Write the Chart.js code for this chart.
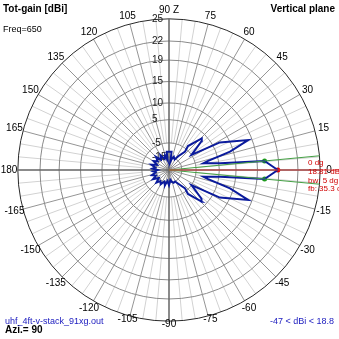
<!DOCTYPE html>
<html>
<head>
<meta charset="utf-8">
<script src="https://cdn.jsdelivr.net/npm/chart.js@4.4.1/dist/chart.umd.min.js"></script>
<style>
  html, body { margin: 0; padding: 0; background: #fff; }
  canvas { display: block; }
</style>
</head>
<body>
<canvas id="polar" width="339" height="339"></canvas>
<script>
// outline of the pattern, traced in drawing order:
// elevation angle (deg) and total gain (dBi) at each vertex
let patternAngles = [
  0, 5.4, 7.5, 11, 13, 16.7, 20.7, 28.5, 34, 41.5, 44, 51.6, 49, 56, 62, 70, 77,
  81, 82, 97, 98, 105, 112, 120, 128, 135, 142, 150, 157, 163, 170, 175, 180,
  -175, -170, -163, -157, -150, -142, -135, -128, -120, -112, -105, -98, -90, -82,
  -77, -70, -62, -56, -49, -51.6, -44, -41.5, -34, -28.5, -20.7, -16.7, -13, -11,
  -7.5, -5.4, 0
];
let patternGain = [
  18.81, 16.5, 5.4, -1, 1, 9.1, 14.2, 7.4, -5, 2.5, 3.3, -3.2, -6.5, -12, -16, -14, -17,
  -20, -10.6, -10.6, -18, -13, -16, -11.5, -15, -10.5, -14, -11, -15, -10.5, -14, -12, -16.5,
  -12.5, -14.5, -11, -14, -10.5, -15, -11, -14, -12, -15.5, -12.5, -17, -13, -18,
  -16, -14.5, -15, -12, -6.5, -3.2, 3.3, 2.5, -5, 7.4, 14.2, 9.1, 1, -1,
  5.4, 16.5, 18.81
];

// grid rings (dBi) and angle labels round the rim
let ringValues = [25, 22, 19, 15, 10, 5, -5, -15];
let rimAngles = [0, 15, 30, 45, 60, 75, 90, 105, 120, 135, 150, 165, 180,
  -165, -150, -135, -120, -105, -90, -75, -60, -45, -30, -15];
let rimLabels = ["0", "15", "30", "45", "60", "75", "90 Z", "105", "120", "135", "150", "165", "180",
  "-165", "-150", "-135", "-120", "-105", "-90", "-75", "-60", "-45", "-30", "-15"];

// main beam summary
let beamAngle = 0;
let beamGain = 18.81;
let halfPowerAngles = [5.4, -5.4];
let halfPowerGain = 16.5;
let beamWidth = 5;
let frontBack = 35.3;
let gainMin = -47;
let gainMax = 18.8;

const DEG = Math.PI / 180;

// log-like radial scale used by the plot: 25 dBi on the rim, about -33 dBi at the centre
function gainToRadius(db) {
  return Math.max(0, 0.30596 * Math.exp(0.0497 * db) - 0.05894);
}

function toXY(angle, db) {
  let r = gainToRadius(db);
  return { x: r * Math.cos(angle * DEG), y: r * Math.sin(angle * DEG) };
}

let patternPoints = patternAngles.map((a, i) => toXY(a, patternGain[i]));

let greenLines = [];
halfPowerAngles.forEach(a => {
  greenLines.push({ x: 0, y: 0 });
  greenLines.push({ x: Math.cos(a * DEG), y: Math.sin(a * DEG) });
  greenLines.push({ x: NaN, y: NaN });
});

// polar grid, rim labels and ring labels are drawn under the data
const polarGrid = {
  id: "polarGrid",
  beforeDatasetsDraw(chart) {
    const ctx = chart.ctx;
    const xs = chart.scales.x, ys = chart.scales.y;
    const cx = xs.getPixelForValue(0), cy = ys.getPixelForValue(0);
    const R = xs.getPixelForValue(1) - cx;
    ctx.save();

    // minor spokes every 5 degrees
    ctx.strokeStyle = "#d2d2d2";
    ctx.lineWidth = 1;
    const rInner = gainToRadius(-5) * R;
    for (let a = 0; a < 360; a += 5) {
      if (a % 15 === 0) continue;
      ctx.beginPath();
      ctx.moveTo(cx + rInner * Math.cos(a * DEG), cy - rInner * Math.sin(a * DEG));
      ctx.lineTo(cx + R * Math.cos(a * DEG), cy - R * Math.sin(a * DEG));
      ctx.stroke();
    }
    // major spokes every 15 degrees
    ctx.strokeStyle = "#959595";
    for (let a = 0; a < 360; a += 15) {
      if (a % 90 === 0) continue;
      ctx.beginPath();
      ctx.moveTo(cx, cy);
      ctx.lineTo(cx + R * Math.cos(a * DEG), cy - R * Math.sin(a * DEG));
      ctx.stroke();
    }
    // rings
    ringValues.forEach(v => {
      ctx.beginPath();
      ctx.strokeStyle = v === ringValues[0] ? "#2a2a2a" : "#8a8a8a";
      ctx.arc(cx, cy, gainToRadius(v) * R, 0, 2 * Math.PI);
      ctx.stroke();
    });
    // axes
    ctx.strokeStyle = "#666";
    ctx.lineWidth = 1.5;
    ctx.beginPath();
    ctx.moveTo(cx - R, cy); ctx.lineTo(cx + R, cy);
    ctx.moveTo(cx, cy - R); ctx.lineTo(cx, cy + R);
    ctx.stroke();

    // rim labels
    ctx.fillStyle = "#000";
    ctx.font = "10px 'Liberation Sans', Arial, sans-serif";
    ctx.textAlign = "center";
    ctx.textBaseline = "middle";
    rimAngles.forEach((a, i) => {
      const s = Math.sin(a * DEG);
      const rl = s < -0.9 ? 154 : 159.5;
      ctx.fillText(rimLabels[i], cx + 160 * Math.cos(a * DEG) * R / 151, cy - rl * s * R / 151);
    });

    // ring labels up the vertical axis
    ctx.font = "10px 'Liberation Sans', Arial, sans-serif";
    ctx.textAlign = "left";
    ctx.fillStyle = "#1a1a1a";
    ringValues.forEach(v => {
      ctx.fillText(String(v), cx - 17, cy - gainToRadius(v) * R);
    });
    ctx.restore();
  },
  afterDraw(chart) {
    const ctx = chart.ctx;
    const ys = chart.scales.y;
    const cy = ys.getPixelForValue(0);
    ctx.save();
    ctx.textBaseline = "middle";
    ctx.textAlign = "left";
    ctx.fillStyle = "#000";
    ctx.font = "bold 10px 'Liberation Sans', Arial, sans-serif";
    ctx.fillText("Tot-gain [dBi]", 3, 9);
    ctx.fillText("Azi.= " + 90, 5, 330);
    ctx.textAlign = "right";
    ctx.fillText("Vertical plane", 335, 9);
    ctx.textAlign = "left";
    ctx.font = "9px 'Liberation Sans', Arial, sans-serif";
    ctx.fillText("Freq=650", 3, 30);

    ctx.fillStyle = "#2020c0";
    ctx.fillText("uhf_4ft-v-stack_91xg.out", 5, 322);
    ctx.textAlign = "right";
    ctx.fillText(gainMin + " < dBi < " + gainMax, 334, 322);

    // beam summary next to the main lobe
    ctx.textAlign = "left";
    ctx.fillStyle = "#d00000";
    ctx.font = "8px 'Liberation Sans', Arial, sans-serif";
    ctx.fillText(beamAngle + " dg", 308, cy - 7);
    ctx.fillText(beamGain.toFixed(2) + " dB", 308, cy + 2);
    ctx.fillText("bw: " + beamWidth + " dg", 308, cy + 11);
    ctx.fillText("fb: " + frontBack + " dB", 308, cy + 19);
    ctx.restore();
  }
};

new Chart("polar", {
  type: "scatter",
  data: {
    datasets: [
      {
        data: [{ x: 0, y: 0 }, { x: 1.13, y: 0 }],
        showLine: true, borderColor: "#d84040", borderWidth: 1, pointRadius: 0
      },
      {
        data: greenLines,
        showLine: true, spanGaps: false, borderColor: "#44a044", borderWidth: 1, pointRadius: 0
      },
      {
        data: patternPoints,
        showLine: true, borderColor: "#0a1a9c", borderWidth: 2, pointRadius: 0,
        borderJoinStyle: "miter"
      },
      {
        data: halfPowerAngles.map(a => toXY(a, halfPowerGain)),
        showLine: false, pointRadius: 2.5, backgroundColor: "#1c9a1c", borderWidth: 0
      },
      {
        data: [toXY(beamAngle, beamGain)],
        showLine: false, pointRadius: 2.5, backgroundColor: "#e00000", borderWidth: 0
      }
    ]
  },
  options: {
    responsive: false,
    animation: false,
    events: [],
    layout: { padding: 0, autoPadding: false },
    plugins: { legend: { display: false }, tooltip: { enabled: false } },
    scales: {
      x: { type: "linear", display: false, min: -169 / 151, max: 170 / 151 },
      y: { type: "linear", display: false, min: -169 / 151, max: 170 / 151 }
    }
  },
  plugins: [polarGrid]
});
</script>
</body>
</html>
